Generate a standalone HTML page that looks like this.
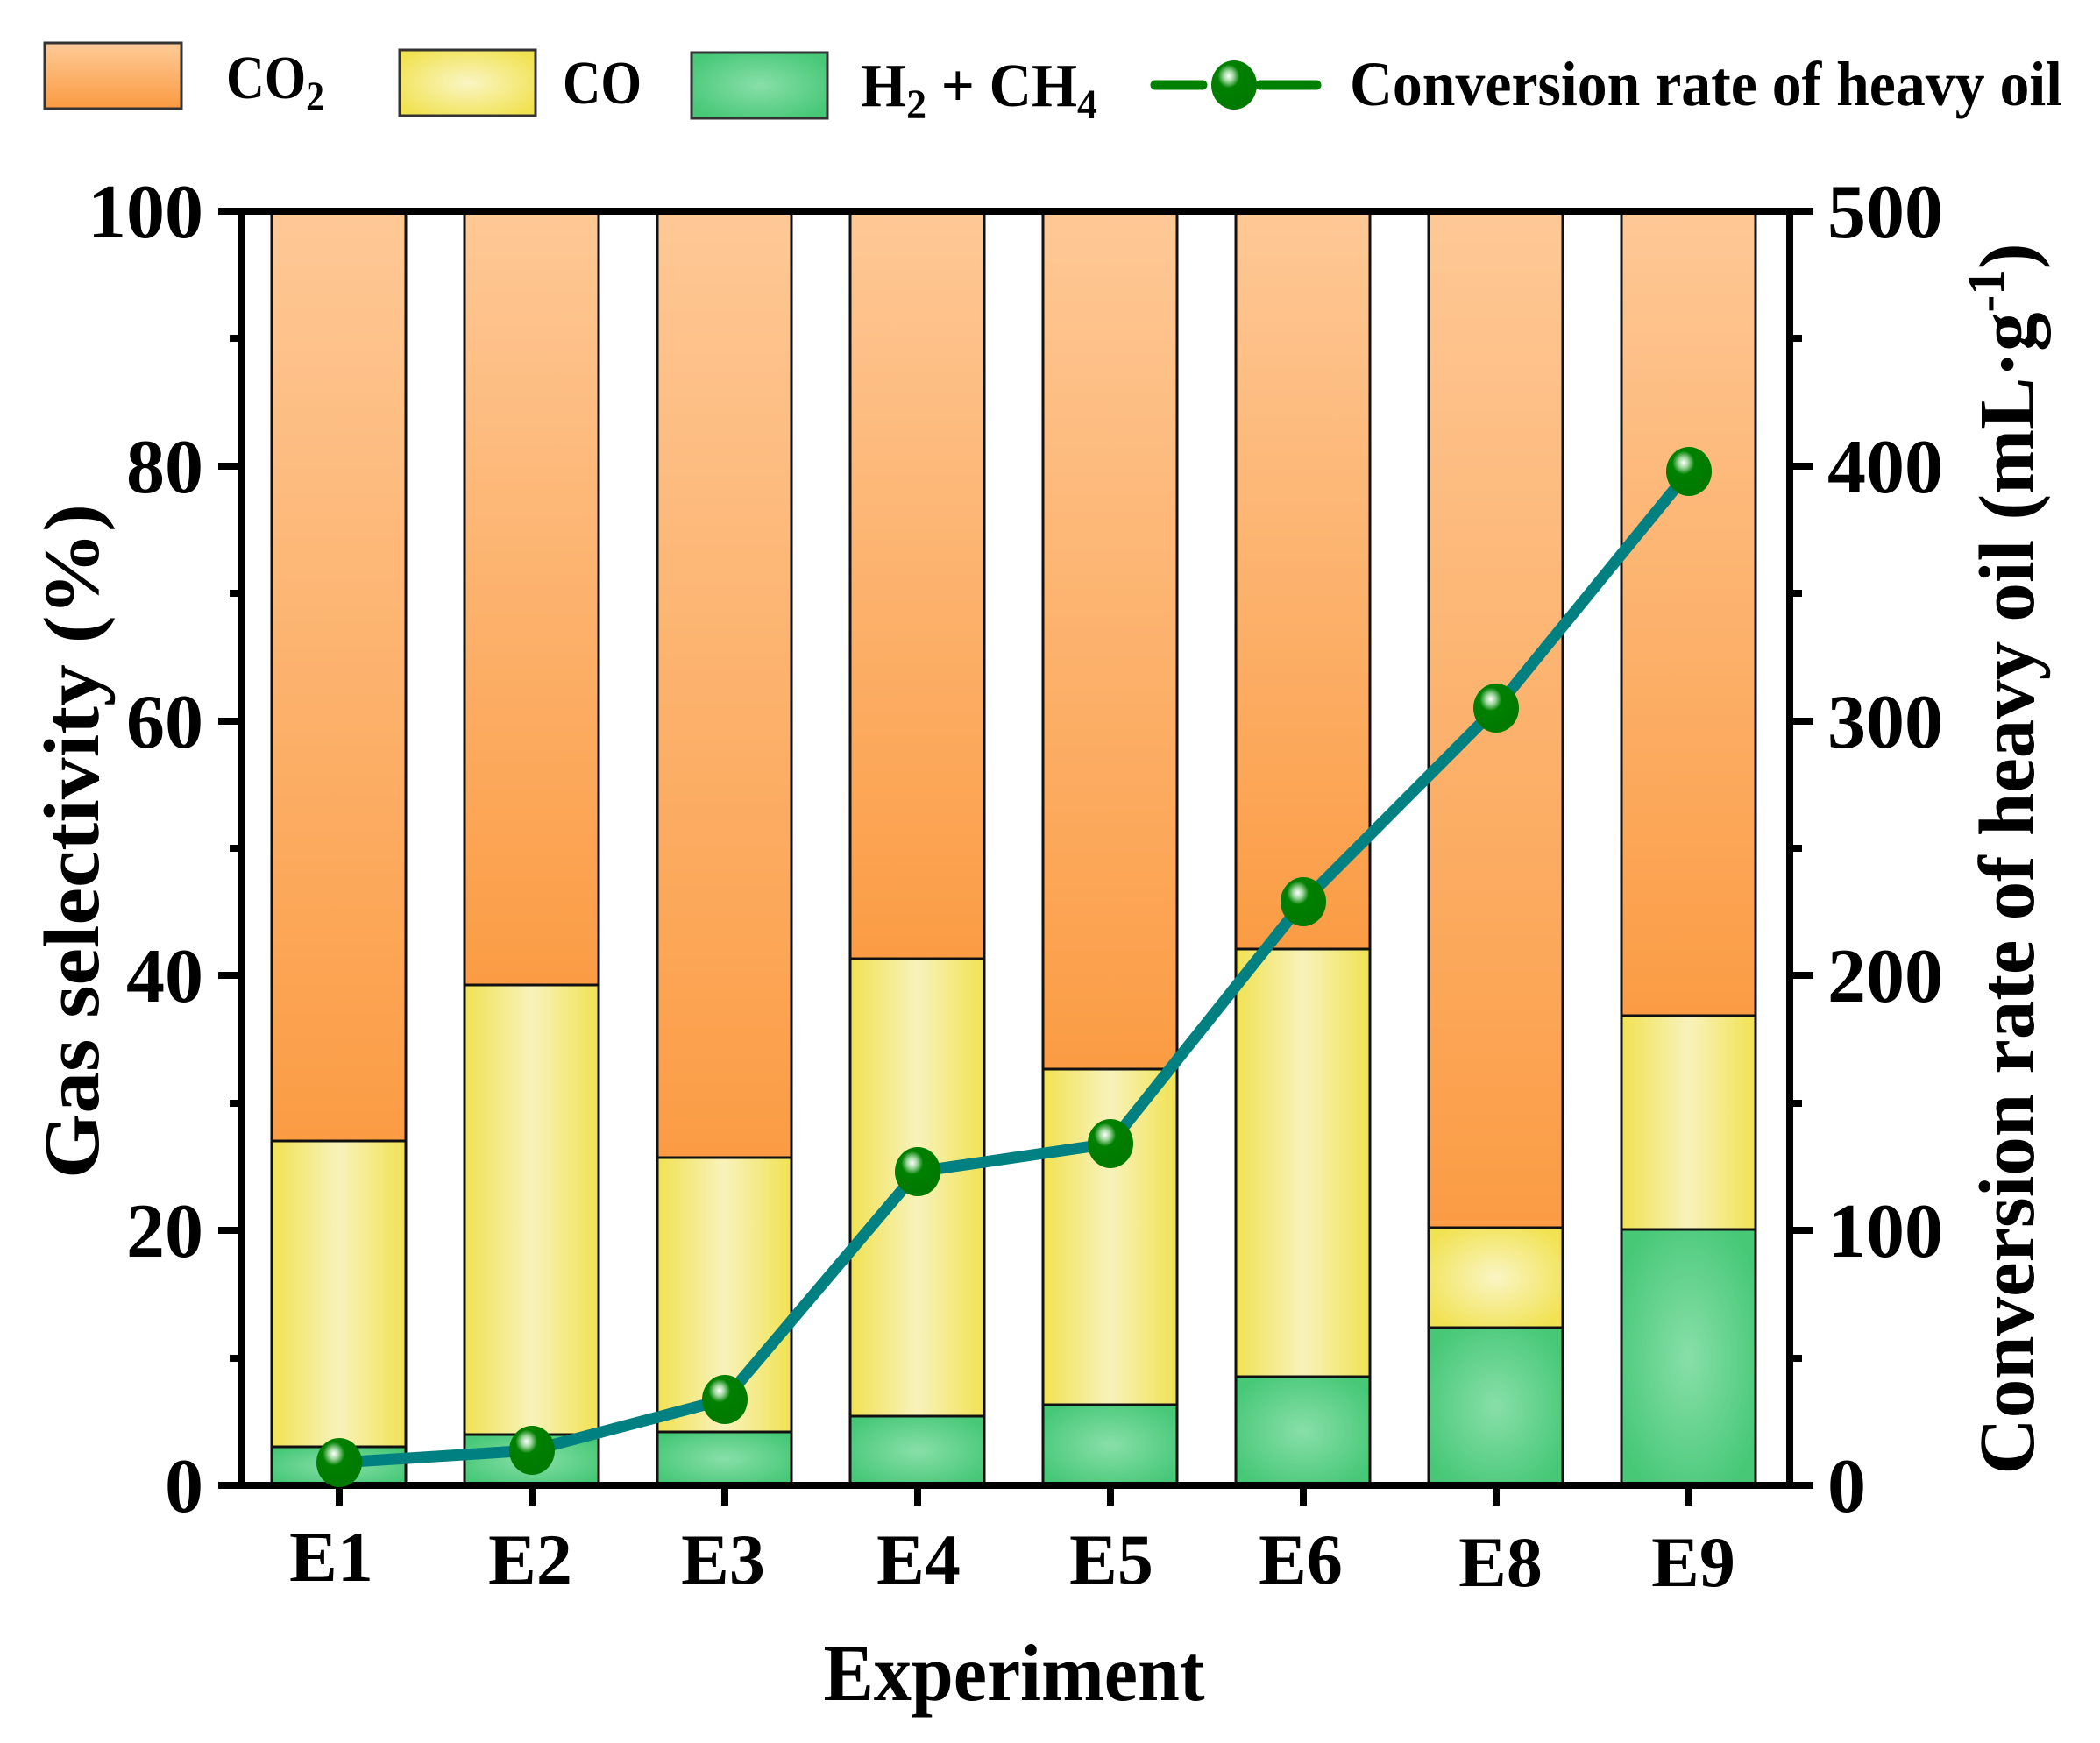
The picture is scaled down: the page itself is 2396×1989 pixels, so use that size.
<!DOCTYPE html>
<html><head><meta charset="utf-8"><style>
html,body{margin:0;padding:0;background:#fff;}
svg{display:block;}
text{font-family:"Liberation Serif",serif;font-weight:bold;fill:#000;}
</style></head><body>
<svg width="2396" height="1989" viewBox="0 0 2396 1989" xmlns="http://www.w3.org/2000/svg">
<defs>
<linearGradient id="gO" x1="0" y1="0" x2="0" y2="1">
<stop offset="0" stop-color="#fec896"/><stop offset="1" stop-color="#fb9c44"/>
</linearGradient>
<linearGradient id="gOL" x1="0" y1="0" x2="0" y2="1">
<stop offset="0" stop-color="#fecb98"/><stop offset="1" stop-color="#fb9a40"/>
</linearGradient>
<linearGradient id="gYh" x1="0" y1="0" x2="1" y2="0">
<stop offset="0" stop-color="#f1e252"/><stop offset="0.5" stop-color="#f8f2bb"/><stop offset="1" stop-color="#f1e252"/>
</linearGradient>
<radialGradient id="gY" cx="0.5" cy="0.5" r="0.6">
<stop offset="0" stop-color="#faf5c4"/><stop offset="1" stop-color="#f1e252"/>
</radialGradient>
<radialGradient id="gG" cx="0.5" cy="0.5" r="0.6">
<stop offset="0" stop-color="#88dfa8"/><stop offset="1" stop-color="#46c877"/>
</radialGradient>
<radialGradient id="gM" cx="0.38" cy="0.32" r="0.6">
<stop offset="0" stop-color="#ffffff"/><stop offset="0.18" stop-color="#9fd79f"/><stop offset="0.4" stop-color="#008000"/><stop offset="1" stop-color="#007a00"/>
</radialGradient>
</defs>

<!-- legend -->
<rect x="51" y="49" width="156" height="75" fill="url(#gOL)" stroke="#333" stroke-width="3"/>
<text x="258" y="112" font-size="70" textLength="112" lengthAdjust="spacingAndGlyphs">CO<tspan font-size="48" dy="14">2</tspan></text>
<rect x="456" y="57" width="155" height="75" fill="url(#gY)" stroke="#333" stroke-width="3"/>
<text x="642" y="118" font-size="70" textLength="90" lengthAdjust="spacingAndGlyphs">CO</text>
<rect x="789" y="60" width="155" height="75" fill="url(#gG)" stroke="#333" stroke-width="3"/>
<text x="982" y="121" font-size="70" textLength="270" lengthAdjust="spacingAndGlyphs">H<tspan font-size="48" dy="14">2</tspan><tspan dy="-14"> + CH</tspan><tspan font-size="48" dy="14">4</tspan></text>
<line x1="1318" y1="97" x2="1372" y2="97" stroke="#008000" stroke-width="11" stroke-linecap="round"/>
<line x1="1438" y1="97" x2="1502" y2="97" stroke="#008000" stroke-width="11" stroke-linecap="round"/>
<ellipse cx="1408" cy="97" rx="26" ry="28" fill="url(#gM)"/>
<text x="1540" y="120" font-size="72" textLength="813" lengthAdjust="spacingAndGlyphs">Conversion rate of heavy oil</text>

<!-- bars -->
<g stroke="#111" stroke-width="3">
<rect x="310" y="241" width="153" height="1061" fill="url(#gO)"/>
<rect x="310" y="1302" width="153" height="349" fill="url(#gYh)"/>
<rect x="310" y="1651" width="153" height="44" fill="url(#gG)"/>
<rect x="530" y="241" width="153" height="883" fill="url(#gO)"/>
<rect x="530" y="1124" width="153" height="513" fill="url(#gYh)"/>
<rect x="530" y="1637" width="153" height="58" fill="url(#gG)"/>
<rect x="750" y="241" width="153" height="1080" fill="url(#gO)"/>
<rect x="750" y="1321" width="153" height="313" fill="url(#gYh)"/>
<rect x="750" y="1634" width="153" height="61" fill="url(#gG)"/>
<rect x="970" y="241" width="153" height="853" fill="url(#gO)"/>
<rect x="970" y="1094" width="153" height="522" fill="url(#gYh)"/>
<rect x="970" y="1616" width="153" height="79" fill="url(#gG)"/>
<rect x="1190" y="241" width="153" height="979" fill="url(#gO)"/>
<rect x="1190" y="1220" width="153" height="383" fill="url(#gYh)"/>
<rect x="1190" y="1603" width="153" height="92" fill="url(#gG)"/>
<rect x="1410" y="241" width="153" height="842" fill="url(#gO)"/>
<rect x="1410" y="1083" width="153" height="488" fill="url(#gYh)"/>
<rect x="1410" y="1571" width="153" height="124" fill="url(#gG)"/>
<rect x="1630" y="241" width="153" height="1160" fill="url(#gO)"/>
<rect x="1630" y="1401" width="153" height="114" fill="url(#gY)"/>
<rect x="1630" y="1515" width="153" height="180" fill="url(#gG)"/>
<rect x="1850" y="241" width="153" height="918" fill="url(#gO)"/>
<rect x="1850" y="1159" width="153" height="244" fill="url(#gYh)"/>
<rect x="1850" y="1403" width="153" height="292" fill="url(#gG)"/>
</g>

<!-- axes -->
<g stroke="#000" stroke-width="8" fill="none">
<rect x="276" y="241" width="1766" height="1454"/>
</g>
<g stroke="#000" stroke-width="8">
<line x1="249" y1="241" x2="276" y2="241"/><line x1="249" y1="532" x2="276" y2="532"/>
<line x1="249" y1="823" x2="276" y2="823"/><line x1="249" y1="1113" x2="276" y2="1113"/>
<line x1="249" y1="1404" x2="276" y2="1404"/><line x1="249" y1="1695" x2="276" y2="1695"/>
<line x1="262" y1="386" x2="276" y2="386"/><line x1="262" y1="677" x2="276" y2="677"/>
<line x1="262" y1="968" x2="276" y2="968"/><line x1="262" y1="1259" x2="276" y2="1259"/>
<line x1="262" y1="1550" x2="276" y2="1550"/>
<line x1="2042" y1="241" x2="2069" y2="241"/><line x1="2042" y1="532" x2="2069" y2="532"/>
<line x1="2042" y1="823" x2="2069" y2="823"/><line x1="2042" y1="1113" x2="2069" y2="1113"/>
<line x1="2042" y1="1404" x2="2069" y2="1404"/><line x1="2042" y1="1695" x2="2069" y2="1695"/>
<line x1="2042" y1="386" x2="2056" y2="386"/><line x1="2042" y1="677" x2="2056" y2="677"/>
<line x1="2042" y1="968" x2="2056" y2="968"/><line x1="2042" y1="1259" x2="2056" y2="1259"/>
<line x1="2042" y1="1550" x2="2056" y2="1550"/>
<line x1="387" y1="1695" x2="387" y2="1718"/><line x1="607" y1="1695" x2="607" y2="1718"/>
<line x1="827" y1="1695" x2="827" y2="1718"/><line x1="1047" y1="1695" x2="1047" y2="1718"/>
<line x1="1267" y1="1695" x2="1267" y2="1718"/><line x1="1487" y1="1695" x2="1487" y2="1718"/>
<line x1="1707" y1="1695" x2="1707" y2="1718"/><line x1="1927" y1="1695" x2="1927" y2="1718"/>
</g>

<!-- conversion line -->
<polyline points="387,1669 607,1655 827,1597 1047,1337 1267,1305 1487,1029 1707,808 1927,538" fill="none" stroke="#008080" stroke-width="13" stroke-linejoin="round"/>
<g>
<ellipse cx="387" cy="1669" rx="26" ry="28" fill="url(#gM)"/>
<ellipse cx="607" cy="1655" rx="26" ry="28" fill="url(#gM)"/>
<ellipse cx="827" cy="1597" rx="26" ry="28" fill="url(#gM)"/>
<ellipse cx="1047" cy="1337" rx="26" ry="28" fill="url(#gM)"/>
<ellipse cx="1267" cy="1305" rx="26" ry="28" fill="url(#gM)"/>
<ellipse cx="1487" cy="1029" rx="26" ry="28" fill="url(#gM)"/>
<ellipse cx="1707" cy="808" rx="26" ry="28" fill="url(#gM)"/>
<ellipse cx="1927" cy="538" rx="26" ry="28" fill="url(#gM)"/>
</g>

<g font-size="88" text-anchor="end">
<text x="232" y="271">100</text><text x="232" y="562">80</text>
<text x="232" y="853">60</text><text x="232" y="1143">40</text>
<text x="232" y="1434">20</text><text x="232" y="1725">0</text>
</g>
<g font-size="88" text-anchor="start">
<text x="2085" y="271">500</text><text x="2085" y="562">400</text>
<text x="2085" y="853">300</text><text x="2085" y="1143">200</text>
<text x="2085" y="1434">100</text><text x="2085" y="1725">0</text>
</g>
<g font-size="82" text-anchor="middle">
<text x="378" y="1804">E1</text><text x="605" y="1807">E2</text>
<text x="825" y="1807">E3</text><text x="1048" y="1807">E4</text>
<text x="1268" y="1807">E5</text><text x="1484" y="1807">E6</text>
<text x="1712" y="1810">E8</text><text x="1932" y="1810">E9</text>
</g>

<text x="1157" y="1940" font-size="92" text-anchor="middle" textLength="435" lengthAdjust="spacingAndGlyphs">Experiment</text>
<text transform="translate(112,960) rotate(-90)" font-size="90" text-anchor="middle" textLength="770" lengthAdjust="spacingAndGlyphs">Gas selectivity (%)</text>
<text transform="translate(2320,980) rotate(-90)" font-size="90" text-anchor="middle" textLength="1405" lengthAdjust="spacingAndGlyphs">Conversion rate of heavy oil (mL·g<tspan font-size="60" dy="-34">-1</tspan><tspan dy="34">)</tspan></text>
</svg>
</body></html>
